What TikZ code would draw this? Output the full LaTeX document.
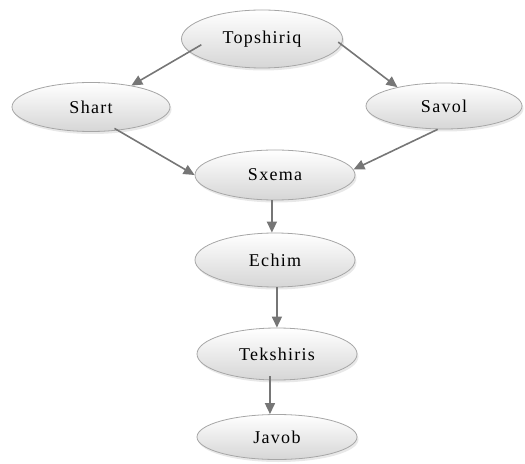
\documentclass[tikz,border=0pt]{standalone}
\usepackage{fontspec}
\setmainfont{Liberation Serif}[LetterSpace=7]
\usetikzlibrary{shapes.geometric,arrows.meta,shadows}
\definecolor{edgegray}{HTML}{767676}
\definecolor{bordergray}{HTML}{A6A6A6}
\definecolor{fillbot}{HTML}{D6D6D6}
\begin{document}
\begin{tikzpicture}[x=1bp,y=-1bp,
  oval/.style={ellipse, draw=bordergray, line width=0.8bp, inner sep=0pt,
    top color=white, bottom color=fillbot,
    drop shadow={opacity=0.18, shadow xshift=1.5bp, shadow yshift=-2.5bp},
    font=\fontsize{18bp}{21bp}\selectfont},
  arr/.style={draw=edgegray, line width=1.6bp,
    -{Triangle[length=11bp,width=10bp]}}
]
\useasboundingbox (0,0) rectangle (525,464);
\node[oval, minimum width=161bp, minimum height=58bp] (top) at (262,39) {Topshiriq};
\node[oval, minimum width=158bp, minimum height=49bp] (shart) at (91,107) {Shart};
\node[oval, minimum width=156bp, minimum height=46bp] (savol) at (444,106) {Savol};
\node[oval, minimum width=160bp, minimum height=50bp] (sxema) at (275,175) {Sxema};
\node[oval, minimum width=160bp, minimum height=54bp] (echim) at (275,260) {Echim};
\node[oval, minimum width=160bp, minimum height=52bp] (tek) at (277,354) {Tekshiris};
\node[oval, minimum width=160bp, minimum height=45bp] (javob) at (277,437) {Javob};

\draw[arr, shorten <=-14bp] (top.190) -- (shart.28);
\draw[arr, shorten <=-4bp] (top.-4) -- (savol.158.6);
\draw[arr, shorten <=-4bp] (shart.-41.5) -- (sxema.180);
\draw[arr] (savol.-105) -- (sxema.4);
\draw[arr] (sxema.-97) -- (sxema.-97 |- echim.north);
\draw[arr] (echim.-86) -- (echim.-86 |- tek.north);
\draw[arr, shorten <=-4bp] (tek.-105) -- (tek.-105 |- javob.north);
\end{tikzpicture}
\end{document}
